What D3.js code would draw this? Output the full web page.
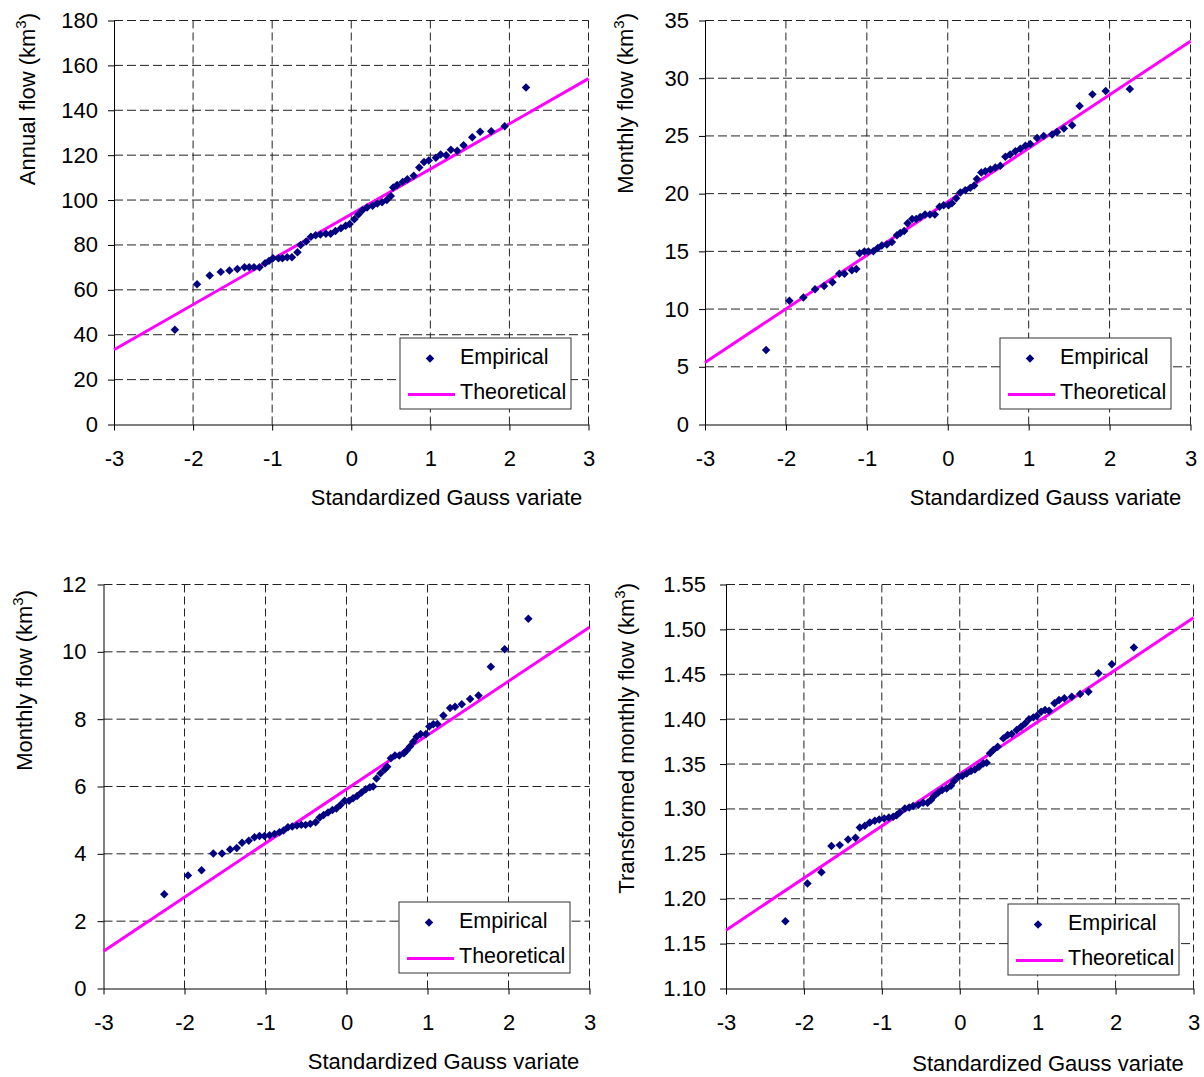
<!DOCTYPE html>
<html>
<head>
<meta charset="utf-8">
<script src="https://cdn.jsdelivr.net/npm/d3@7/dist/d3.min.js"></script>
<style>
  body { margin: 0; background: #fff; }
  svg { display: block; font-family: "Liberation Sans", Arial, sans-serif; }
  .axis path, .axis line { stroke: #000; }
  .axis text { font-size: 22px; fill: #000; }
</style>
</head>
<body>
<div id="chart"></div>
<script>
// Data.
const theoZ = [-3, 3];

const annualZ = [-2.23, -1.95, -1.79, -1.65, -1.54, -1.44, -1.35, -1.29, -1.23, -1.16, -1.09, -1.04, -0.99, -0.92, -0.87, -0.81, -0.75, -0.68, -0.64, -0.57, -0.51, -0.45, -0.39, -0.32, -0.26, -0.20, -0.13, -0.07, -0.02, 0.04, 0.09, 0.14, 0.20, 0.27, 0.33, 0.39, 0.45, 0.50, 0.53, 0.58, 0.65, 0.71, 0.79, 0.86, 0.92, 0.98, 1.07, 1.13, 1.20, 1.26, 1.34, 1.42, 1.53, 1.63, 1.77, 1.94, 2.21];
const annualQ = [42.2, 62.5, 66.4, 68.0, 68.6, 69.3, 70.1, 70.1, 70.1, 70.1, 71.8, 72.9, 74.1, 74.1, 74.1, 74.5, 74.5, 76.7, 80.0, 81.5, 83.7, 84.3, 84.7, 85.0, 85.0, 86.2, 87.4, 88.6, 89.3, 91.5, 93.6, 95.5, 96.7, 97.5, 98.5, 99.0, 100.0, 101.8, 105.6, 106.7, 108.1, 109.3, 110.8, 114.5, 117.0, 117.6, 118.8, 120.3, 120.0, 122.4, 122.0, 124.4, 128.0, 130.4, 130.7, 132.9, 150.1];
const annualTheo = [33.3, 154.1];
const annualTicks = [0, 20, 40, 60, 80, 100, 120, 140, 160, 180];

const monthlyZ = [-2.245, -1.957, -1.784, -1.64, -1.528, -1.425, -1.34, -1.277, -1.185, -1.13, -1.09, -1.03, -0.98, -0.92, -0.864, -0.815, -0.752, -0.69, -0.628, -0.587, -0.538, -0.497, -0.44, -0.39, -0.34, -0.28, -0.22, -0.16, -0.101, -0.05, 0.01, 0.052, 0.104, 0.155, 0.216, 0.278, 0.327, 0.36, 0.415, 0.464, 0.526, 0.588, 0.65, 0.712, 0.77, 0.835, 0.897, 0.96, 1.02, 1.104, 1.186, 1.29, 1.35, 1.435, 1.537, 1.63, 1.788, 1.952, 2.25];
const monthlyQ = [6.45, 10.72, 11.0, 11.72, 12.0, 12.33, 13.05, 13.05, 13.37, 13.48, 14.84, 14.98, 14.98, 15.0, 15.3, 15.5, 15.6, 15.8, 16.4, 16.6, 16.77, 17.43, 17.8, 17.8, 17.98, 18.2, 18.2, 18.2, 18.87, 19.0, 19.0, 19.16, 19.6, 20.1, 20.3, 20.5, 20.7, 21.26, 21.84, 21.95, 22.1, 22.27, 22.41, 23.19, 23.4, 23.68, 23.9, 24.14, 24.3, 24.83, 25.0, 25.12, 25.35, 25.64, 25.93, 27.6, 28.6, 28.9, 29.07];
const monthlyTheo = [5.38, 33.2];
const monthlyTicks = [0, 5, 10, 15, 20, 25, 30, 35];

const month2Z = [-2.25, -1.957, -1.789, -1.644, -1.537, -1.437, -1.355, -1.289, -1.207, -1.136, -1.074, -1.012, -0.95, -0.889, -0.827, -0.777, -0.723, -0.67, -0.612, -0.558, -0.505, -0.447, -0.381, -0.331, -0.282, -0.228, -0.174, -0.125, -0.075, -0.022, 0.032, 0.081, 0.131, 0.185, 0.238, 0.288, 0.329, 0.37, 0.42, 0.474, 0.503, 0.548, 0.598, 0.651, 0.709, 0.742, 0.783, 0.824, 0.866, 0.915, 0.981, 1.022, 1.072, 1.121, 1.196, 1.279, 1.34, 1.423, 1.526, 1.63, 1.782, 1.952, 2.245];
const month2Q = [2.80, 3.36, 3.51, 4.01, 4.01, 4.13, 4.17, 4.33, 4.39, 4.49, 4.53, 4.53, 4.55, 4.59, 4.64, 4.69, 4.79, 4.81, 4.84, 4.86, 4.86, 4.89, 4.94, 5.08, 5.15, 5.23, 5.30, 5.35, 5.45, 5.58, 5.58, 5.65, 5.72, 5.82, 5.92, 5.98, 6.00, 6.24, 6.39, 6.51, 6.59, 6.84, 6.92, 6.92, 6.99, 7.07, 7.19, 7.33, 7.48, 7.56, 7.56, 7.78, 7.85, 7.86, 8.11, 8.33, 8.37, 8.44, 8.60, 8.70, 9.56, 10.08, 10.98];
const month2Theo = [1.11, 10.73];
const month2Ticks = [0, 2, 4, 6, 8, 10, 12];

const transZ = [-2.238, -1.955, -1.775, -1.647, -1.54, -1.433, -1.338, -1.283, -1.218, -1.154, -1.09, -1.034, -0.97, -0.91, -0.854, -0.811, -0.769, -0.704, -0.649, -0.598, -0.533, -0.469, -0.413, -0.37, -0.328, -0.276, -0.225, -0.168, -0.113, -0.071, -0.019, 0.032, 0.088, 0.144, 0.195, 0.247, 0.302, 0.345, 0.388, 0.431, 0.487, 0.559, 0.615, 0.667, 0.731, 0.787, 0.838, 0.889, 0.945, 0.988, 1.044, 1.095, 1.147, 1.215, 1.275, 1.343, 1.438, 1.545, 1.652, 1.78, 1.952, 2.235];
const transQ = [1.175, 1.217, 1.2296, 1.2586, 1.2597, 1.266, 1.2678, 1.2794, 1.2812, 1.285, 1.2868, 1.2883, 1.2894, 1.2905, 1.2912, 1.2931, 1.2961, 1.3005, 1.3017, 1.3032, 1.3043, 1.3069, 1.3069, 1.3099, 1.3143, 1.3184, 1.321, 1.3228, 1.3258, 1.331, 1.3358, 1.3366, 1.3396, 1.3422, 1.344, 1.347, 1.3507, 1.3515, 1.3619, 1.3656, 1.3693, 1.3786, 1.3823, 1.3834, 1.3879, 1.3916, 1.3953, 1.3998, 1.402, 1.4035, 1.4083, 1.4102, 1.4094, 1.4176, 1.4213, 1.4232, 1.425, 1.428, 1.4306, 1.4511, 1.4611, 1.4797];
const transTheo = [1.165, 1.513];
const transTicks = [1.10, 1.15, 1.20, 1.25, 1.30, 1.35, 1.40, 1.45, 1.50, 1.55];

const xTicks = [-3, -2, -1, 0, 1, 2, 3];
const xTitle = 'Standardized Gauss variate';

// Plain hyphen minus, like the original.
const fmtInt = d => String(d);
const fmt2 = d => d.toFixed(2);

// Panel layout.
const panels = [
  { z: annualZ, q: annualQ, theo: annualTheo, ticks: annualTicks, fmt: fmtInt,
    title: 'Annual flow (km', left: 114, right: 588.5, top: 20.5, bottom: 424.5,
    yPad: 10, yTitle: [35, 13], xTitlePos: [446.5, 505], legend: [400, 338] },
  { z: monthlyZ, q: monthlyQ, theo: monthlyTheo, ticks: monthlyTicks, fmt: fmtInt,
    title: 'Monthly flow (km', left: 705, right: 1190.5, top: 20.5, bottom: 424.5,
    yPad: 10, yTitle: [633, 13], xTitlePos: [1045.5, 505], legend: [1000, 338] },
  { z: month2Z, q: month2Q, theo: month2Theo, ticks: month2Ticks, fmt: fmtInt,
    title: 'Monthly flow (km', left: 103.5, right: 589.5, top: 584.5, bottom: 988.5,
    yPad: 11, yTitle: [31.5, 590], xTitlePos: [443.5, 1069], legend: [399, 902] },
  { z: transZ, q: transQ, theo: transTheo, ticks: transTicks, fmt: fmt2,
    title: 'Transformed monthly flow (km', left: 726, right: 1193.5, top: 584.5, bottom: 988.5,
    yPad: 14, yTitle: [634, 583], xTitlePos: [1048, 1071], legend: [1008, 904] }
];

const svg = d3.select('#chart')
  .append('svg')
  .attr('width', 1204)
  .attr('height', 1077);

const diamond = d3.symbol().type(d3.symbolSquare).size(36);

function drawPanel(p) {
  const x = d3.scaleLinear().domain([-3, 3]).range([p.left, p.right]);
  const y = d3.scaleLinear().domain(d3.extent(p.ticks)).range([p.bottom, p.top]);
  const g = svg.append('g');

  // Dashed grid.
  g.append('g')
    .selectAll('line')
    .data(p.ticks.slice(1))
    .join('line')
    .attr('x1', p.left).attr('x2', p.right)
    .attr('y1', d => y(d)).attr('y2', d => y(d))
    .attr('stroke', '#222')
    .attr('stroke-dasharray', '9,4');

  g.append('g')
    .selectAll('line')
    .data(xTicks.slice(1))
    .join('line')
    .attr('x1', d => x(d)).attr('x2', d => x(d))
    .attr('y1', p.top).attr('y2', p.bottom)
    .attr('stroke', '#222')
    .attr('stroke-dasharray', '8,4');

  // Axes.
  g.append('g')
    .attr('class', 'axis')
    .attr('transform', `translate(${p.left},0)`)
    .call(d3.axisLeft(y).tickValues(p.ticks).tickFormat(p.fmt).tickSizeInner(6).tickSizeOuter(0).tickPadding(p.yPad));

  g.append('g')
    .attr('class', 'axis')
    .attr('transform', `translate(0,${p.bottom})`)
    .call(d3.axisBottom(x).tickValues(xTicks).tickFormat(fmtInt).tickSizeInner(6).tickSizeOuter(0).tickPadding(20));

  // Theoretical line.
  g.append('path')
    .datum(theoZ.map((d, i) => [d, p.theo[i]]))
    .attr('fill', 'none')
    .attr('stroke', '#ff00ff')
    .attr('stroke-width', 3)
    .attr('d', d3.line().x(d => x(d[0])).y(d => y(d[1])));

  // Empirical points.
  g.append('g')
    .selectAll('path')
    .data(p.z.map((d, i) => [d, p.q[i]]))
    .join('path')
    .attr('d', diamond)
    .attr('fill', '#000080')
    .attr('transform', d => `translate(${x(d[0])},${y(d[1])}) rotate(45)`);

  // Axis titles.
  const yt = g.append('text')
    .attr('transform', `translate(${p.yTitle[0]},${p.yTitle[1]}) rotate(-90)`)
    .attr('text-anchor', 'end')
    .style('font-size', '22px');
  yt.append('tspan').text(p.title);
  yt.append('tspan').attr('dy', -9).style('font-size', '15px').text('3');
  yt.append('tspan').attr('dy', 9).text(')');

  g.append('text')
    .attr('x', p.xTitlePos[0])
    .attr('y', p.xTitlePos[1])
    .attr('text-anchor', 'middle')
    .style('font-size', '22px')
    .text(xTitle);

  // Legend.
  const lg = g.append('g').attr('transform', `translate(${p.legend[0]},${p.legend[1]})`);
  lg.append('rect')
    .attr('width', 171).attr('height', 71)
    .attr('fill', '#fff')
    .attr('stroke', '#333');
  lg.append('path')
    .attr('d', diamond)
    .attr('fill', '#000080')
    .attr('transform', 'translate(30,20.5) rotate(45)');
  lg.append('text').attr('x', 60).attr('y', 25.5).style('font-size', '21.5px').text('Empirical');
  lg.append('line')
    .attr('x1', 8).attr('x2', 55).attr('y1', 56.5).attr('y2', 56.5)
    .attr('stroke', '#ff00ff').attr('stroke-width', 3);
  lg.append('text').attr('x', 60).attr('y', 60.5).style('font-size', '21.5px').text('Theoretical');
}

panels.forEach(drawPanel);
</script>
</body>
</html>
